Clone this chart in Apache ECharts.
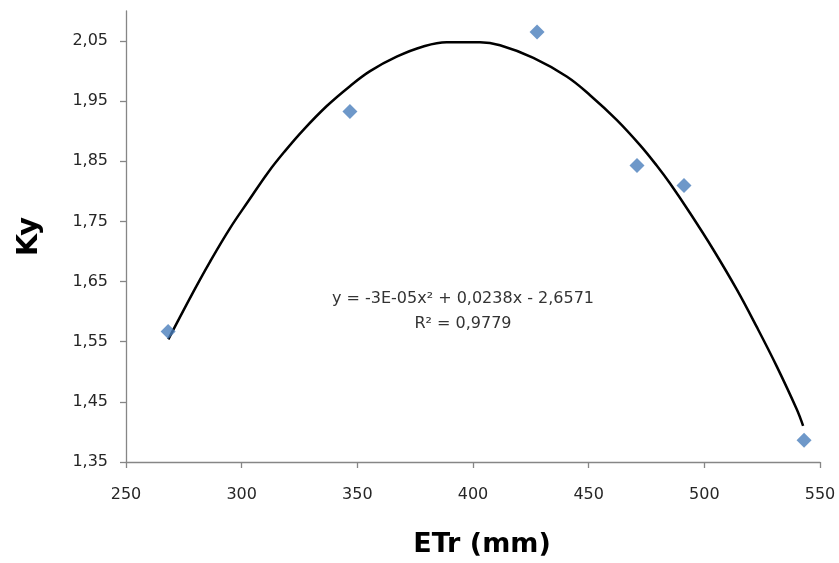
<!DOCTYPE html>
<html>
<head>
<meta charset="utf-8">
<script src="https://cdn.jsdelivr.net/npm/echarts@6/dist/echarts.min.js"></script>
<style>html,body{margin:0;padding:0;background:#fff}#c{width:839px;height:563px}</style>
</head>
<body>
<div id="c"></div>
<script>
// Observed data points (ETr mm, Ky)
const etr = [268.2, 346.8, 427.7, 470.9, 491.2, 543.1];
const ky = [1.567, 1.933, 2.065, 1.843, 1.810, 1.386];
// Polynomial trendline
const trendX = [268.3, 279.1, 286.3, 295.0, 302.9, 311.5, 318.7, 326.6, 336.8, 346.8, 355.5, 367.0, 378.5, 388.6, 403.0, 411.7, 426.1, 440.5, 450.6, 462.1, 472.2, 479.4, 485.2, 493.8, 503.9, 514.0, 522.6, 531.3, 539.9, 542.7];
const trendY = [1.554, 1.633, 1.683, 1.739, 1.784, 1.832, 1.867, 1.902, 1.942, 1.975, 2.000, 2.024, 2.041, 2.048, 2.048, 2.043, 2.022, 1.991, 1.960, 1.919, 1.877, 1.843, 1.813, 1.764, 1.703, 1.637, 1.575, 1.509, 1.438, 1.410];
const yTicks = [1.35, 1.45, 1.55, 1.65, 1.75, 1.85, 1.95, 2.05];
const xTicks = [250, 300, 350, 400, 450, 500, 550];
const equationText = 'y = -3E-05x² + 0,0238x - 2,6571';
const r2Text = 'R² = 0,9779';

const chart = echarts.init(document.getElementById('c'), null, {renderer: 'canvas'});
const axisColor = '#868686';
const labelColor = '#262626';
chart.setOption({
  animation: false,
  grid: {left: 126, right: 19, top: 11, bottom: 99, containLabel: false},
  xAxis: {
    type: 'value', min: 250, max: 550, interval: 50,
    name: 'ETr (mm)', nameLocation: 'middle', nameGap: 69,
    nameTextStyle: {fontFamily: 'DejaVu Sans', fontWeight: 'bold', fontSize: 27, color: '#000', padding: [0, 0, 0, 18]},
    axisLine: {show: true, lineStyle: {color: axisColor, width: 1.3}},
    axisTick: {show: true, length: 6, lineStyle: {color: axisColor, width: 1.3}, customValues: xTicks},
    axisLabel: {color: labelColor, fontFamily: 'DejaVu Sans', fontSize: 16, margin: 25, customValues: xTicks},
    splitLine: {show: false}
  },
  yAxis: {
    type: 'value', min: 1.35, max: 2.1,
    name: 'Ky', nameLocation: 'middle', nameGap: 82, nameRotate: 90,
    nameTextStyle: {fontFamily: 'DejaVu Sans', fontWeight: 'bold', fontSize: 29, color: '#000'},
    axisLine: {show: true, lineStyle: {color: axisColor, width: 1.3}},
    axisTick: {show: true, length: 6, lineStyle: {color: axisColor, width: 1.3}, customValues: yTicks},
    axisLabel: {color: labelColor, fontFamily: 'DejaVu Sans', fontSize: 16, margin: 18, customValues: yTicks,
      formatter: v => v.toFixed(2).replace('.', ',')},
    splitLine: {show: false}
  },
  series: [
    {
      type: 'line', data: trendX.map((x, i) => [x, trendY[i]]),
      smooth: 0.4, showSymbol: false, symbol: 'none',
      lineStyle: {color: '#000', width: 2.5}, z: 2
    },
    {
      type: 'scatter', data: etr.map((x, i) => [x, ky[i]]),
      symbol: 'diamond', symbolSize: [15, 15],
      itemStyle: {color: '#4a7ebb'}, z: 3
    }
  ],
  graphic: [
    {type: 'text', x: 463, y: 286, style: {text: equationText + '\n' + r2Text, align: 'center', verticalAlign: 'top',
      font: '16px "DejaVu Sans"', lineHeight: 25, fill: '#333'}}
  ]
});
</script>
</body>
</html>
